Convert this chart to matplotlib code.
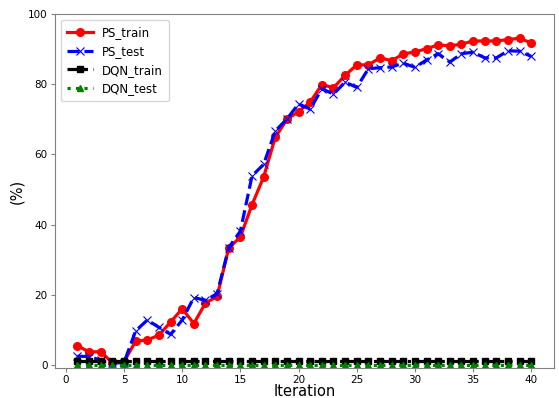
import matplotlib
matplotlib.use('Agg')
import matplotlib.pyplot as plt
import numpy as np

iterations = np.arange(1, 41)

ps_train = [5.6, 3.8, 3.9, 0.7, 1.0, 6.9, 7.2, 8.6, 12.3, 16.1,
            11.9, 17.7, 19.6, 33.4, 36.5, 45.7, 53.6, 64.9, 70.0, 72.2,
            74.9, 79.9, 79.0, 82.5, 85.5, 85.5, 87.5, 86.7, 88.6, 89.2,
            90.1, 91.2, 90.9, 91.4, 92.3, 92.3, 92.3, 92.7, 93.1, 91.7]
ps_test = [2.6, 2.5, 1.5, 0.6, 0.8, 9.8, 12.9, 10.8, 8.8, 12.9,
           19.3, 18.5, 20.4, 33.5, 38.2, 53.9, 57.2, 66.7, 70.1, 74.4,
           72.9, 78.7, 77.2, 80.6, 79.1, 84.4, 84.7, 84.9, 86.0, 84.8,
           86.9, 88.7, 86.3, 88.7, 89.1, 87.5, 87.5, 89.5, 89.4, 87.9]
dqn_train = [1.2] * 40
dqn_test = [0.1] * 40

fig = plt.figure(figsize=(5.59, 3.98), dpi=100)
ax = fig.add_axes([0.098, 0.075, 0.893, 0.89])

ax.plot(iterations, ps_train, '-', marker='o', color='red', linewidth=2.3, markersize=5.5, label='PS_train')
ax.plot(iterations, ps_test, '--', marker='x', color='blue', linewidth=2.3, markersize=5.5,
        markeredgewidth=0.8, label='PS_test')
ax.plot(iterations, dqn_train, '-.', marker='s', color='black', linewidth=2.3, markersize=5, label='DQN_train')
ax.plot(iterations, dqn_test, ':', marker='^', color='green', linewidth=2.3, markersize=5, label='DQN_test')

ax.set_xlim(-0.95, 41.95)
ax.set_ylim(-0.8, 100)
ax.set_xticks(np.arange(0, 41, 5))
ax.set_yticks(np.arange(0, 101, 20))
ax.tick_params(labelsize=7.5, color='gray', length=3, pad=2)
for sp in ax.spines.values():
    sp.set_color('gray')

ax.set_xlabel('Iteration', fontsize=10.5)
ax.xaxis.set_label_coords(0.5, -0.044)
ax.set_ylabel('(%)', fontsize=10.5, labelpad=3)
ax.legend(loc='upper left', fontsize=8.5, handlelength=2.2, handletextpad=0.8,
          labelspacing=0.5, borderpad=0.5)

plt.savefig('out.png', dpi=100)
